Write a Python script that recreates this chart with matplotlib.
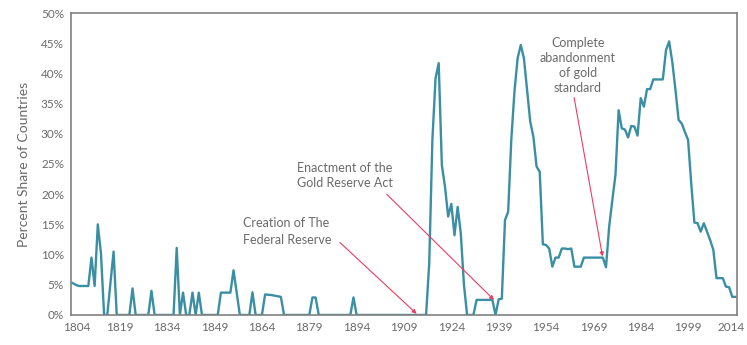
import numpy as np
import matplotlib
matplotlib.use('Agg')
import matplotlib.pyplot as plt
from matplotlib.transforms import ScaledTranslation

# Share of countries (%), one value per year 1804-2014
years = np.arange(1804, 2015)
share = [
    5.3, 5.0, 4.8, 4.8, 4.8, 4.8, 9.5, 4.8, 15.0, 10.2,      # 1804-1813
    0, 0, 5.3, 10.5, 0, 0, 0, 0, 0, 4.4,                    # 1814-1823
    0, 0, 0, 0, 0, 4.0, 0, 0, 0, 0,                         # 1824-1833
    0, 0, 0, 11.1, 0, 3.7, 0, 0, 3.7, 0,                    # 1834-1843
    3.7, 0, 0, 0, 0, 0, 0, 3.7, 3.7, 3.7,                   # 1844-1853
    3.7, 7.4, 3.7, 0, 0, 0, 0, 3.75, 0, 0,                  # 1854-1863
    0, 3.4, 3.35, 3.3, 3.2, 3.1, 3.0, 0, 0, 0,              # 1864-1873
    0, 0, 0, 0, 0, 0, 2.9, 2.9, 0, 0,                       # 1874-1883
    0, 0, 0, 0, 0, 0, 0, 0, 0, 2.9,                         # 1884-1893
    0, 0, 0, 0, 0, 0, 0, 0, 0, 0,                           # 1894-1903
    0, 0, 0, 0, 0, 0, 0, 0, 0, 0,                           # 1904-1913
    0, 0, 0, 8.6, 29.0, 39.2, 41.7, 24.8, 21.2, 16.3,       # 1914-1923
    18.4, 13.2, 17.9, 13.5, 5.0, 0, 0, 0, 2.5, 2.5,         # 1924-1933
    2.5, 2.5, 2.5, 2.5, 0, 2.6, 2.7, 15.7, 17.1, 29.0,      # 1934-1943
    37.0, 42.5, 44.7, 42.5, 37.3, 32.0, 29.5, 24.6, 23.7, 11.7,  # 1944-1953
    11.6, 11.0, 8.0, 9.5, 9.5, 11.0, 11.0, 10.9, 11.0, 8.0,      # 1954-1963
    8.0, 8.0, 9.5, 9.5, 9.5, 9.5, 9.5, 9.5, 9.5, 7.9,            # 1964-1973
    14.6, 19.0, 23.2, 33.9, 30.9, 30.7, 29.4, 31.3, 31.2, 29.7,  # 1974-1983
    35.9, 34.5, 37.4, 37.4, 39.0, 39.0, 39.0, 39.0, 43.8, 45.3,  # 1984-1993
    41.9, 37.3, 32.3, 31.7, 30.3, 29.0, 21.8, 15.3, 15.2, 13.8,  # 1994-2003
    15.2, 13.8, 12.4, 10.8, 6.1, 6.1, 6.1, 4.7, 4.6, 3.0,        # 2004-2013
    3.0,                                                         # 2014
]
x_ticks = list(range(1804, 2015, 15))
y_ticks = [0, 5, 10, 15, 20, 25, 30, 35, 40, 45, 50]

plt.rcParams['font.family'] = ['Lato', 'DejaVu Sans']
gris = '#6a6a6a'
color_linea = '#3a8fa4'
color_flecha = '#ec3d62'

fig = plt.figure(figsize=(7.47, 3.45), dpi=100)
ax = fig.add_axes([0.095, 0.087, 0.8916, 0.8753])

ax.plot(years, share, color=color_linea, lw=1.7)

ax.set_xlim(1803.5, 2014.5)
ax.set_ylim(0, 50)
ax.set_xticks(x_ticks)
ax.set_yticks(y_ticks)
ax.set_yticklabels([f'{v}%' for v in y_ticks])
ax.tick_params(length=0, labelsize=8.5, labelcolor=gris, pad=5)
ax.set_ylabel('Percent Share of Countries', color=gris, fontsize=10, labelpad=8)
for s in ax.spines.values():
    s.set_color('#808080')
    s.set_linewidth(1.2)

# Primera y ultima etiqueta del eje x un poco hacia dentro
etiquetas = ax.get_xticklabels()
etiquetas[0].set_transform(etiquetas[0].get_transform() + ScaledTranslation(4 / 100, 0, fig.dpi_scale_trans))
etiquetas[-1].set_transform(etiquetas[-1].get_transform() + ScaledTranslation(-4 / 100, 0, fig.dpi_scale_trans))

# Anotaciones
flecha = dict(arrowstyle='-|>', color=color_flecha, lw=0.8, mutation_scale=6,
              shrinkA=0, shrinkB=0)
ax.text(1857.9, 13.8, 'Creation of The\nFederal Reserve', ha='left', va='center',
        fontsize=9, color=gris, linespacing=1.45)
ax.annotate('', xy=(1913, 0.2), xytext=(1888.7, 12.0), arrowprops=flecha)

ax.text(1875.1, 23.1, 'Enactment of the\nGold Reserve Act', ha='left', va='center',
        fontsize=9, color=gris, linespacing=1.3)
ax.annotate('', xy=(1937.5, 2.5), xytext=(1903.5, 20.0), arrowprops=flecha)

ax.text(1964.1, 41.3, 'Complete\nabandonment\nof gold\nstandard', ha='center', va='center',
        fontsize=9, color=gris, linespacing=1.3)
ax.annotate('', xy=(1971.9, 9.7), xytext=(1962.9, 36.0), arrowprops=flecha)

fig.savefig('out.png', dpi=100)
